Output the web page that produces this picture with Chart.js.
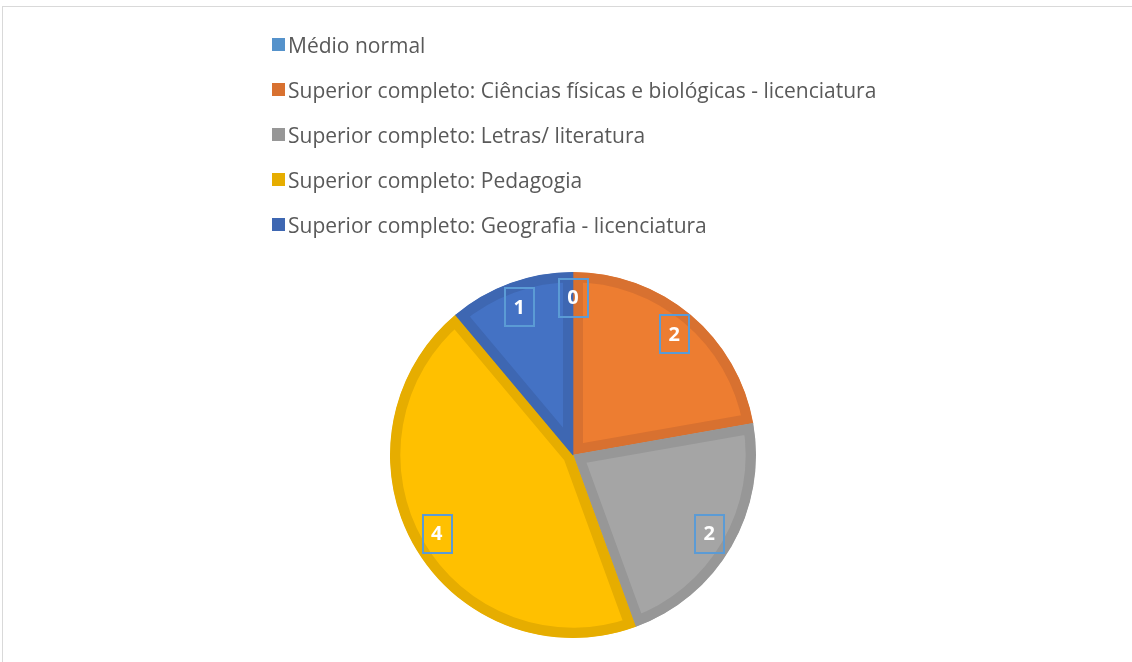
<!DOCTYPE html>
<html>
<head>
<meta charset="utf-8">
<script src="https://cdn.jsdelivr.net/npm/chart.js@4"></script>
<style>
  body { margin: 0; background: #fff; }
  #wrap { position: relative; width: 1132px; height: 662px; overflow: hidden; }
  #frame { position: absolute; left: 2px; top: 6px; right: -4px; bottom: -4px;
           border-left: 1px solid #d9d9d9; border-top: 1px solid #d9d9d9; }
  #pie { position: absolute; left: 0; top: 0; }
  #legend { position: absolute; left: 272px; top: 29px; font-family: "Open Sans", sans-serif;
            font-size: 21px; color: #595959; }
  .row { height: 45px; display: flex; align-items: center; position: relative; top: -7px; }
  .box { width: 13px; height: 13px; margin-right: 3px; }
</style>
</head>
<body>
<div id="wrap">
  <div id="frame"></div>
  <canvas id="pie" width="1132" height="662"></canvas>
  <div id="legend"></div>
</div>
<script>
var labels = [
  "Médio normal",
  "Superior completo: Ciências físicas e biológicas - licenciatura",
  "Superior completo: Letras/ literatura",
  "Superior completo: Pedagogia",
  "Superior completo: Geografia - licenciatura"
];
var values = [0, 2, 2, 4, 1];
var fillColors = ["#5B9BD5", "#ED7D31", "#A5A5A5", "#FFC000", "#4472C4"];
var edgeColors = ["#5592CB", "#D87130", "#979797", "#E6AD00", "#3E67B2"];

// boxed value labels, like excel data labels
var boxLabels = {
  id: 'boxLabels',
  afterDatasetsDraw: function(chart) {
    var ctx = chart.ctx;
    var meta = chart.getDatasetMeta(0);
    ctx.save();
    ctx.font = "bold 20px 'Open Sans', sans-serif";
    ctx.textAlign = "center";
    ctx.textBaseline = "middle";
    meta.data.forEach(function(arc, i) {
      var mid = (arc.startAngle + arc.endAngle) / 2;
      var r = arc.outerRadius * 0.86;
      var x = arc.x + Math.cos(mid) * r;
      var y = arc.y + Math.sin(mid) * r;
      ctx.strokeStyle = "#5B9BD5";
      ctx.lineWidth = 2;
      ctx.strokeRect(Math.round(x) - 14, Math.round(y) - 19, 29, 38);
      ctx.fillStyle = "#fff";
      ctx.fillText(String(chart.data.datasets[0].data[i]), x, y + 1);
    });
    ctx.restore();
  }
};

var pieChart = new Chart(document.getElementById("pie").getContext("2d"), {
  type: 'pie',
  data: {
    labels: labels,
    datasets: [{
      data: values,
      backgroundColor: fillColors,
      borderColor: edgeColors,
      borderWidth: 10,
      borderAlign: 'inner'
    }]
  },
  options: {
    responsive: false,
    animation: false,
    layout: { padding: { top: 272, bottom: 24, left: 14, right: 0 } },
    plugins: {
      legend: { display: false },
      tooltip: { enabled: false }
    }
  },
  plugins: [boxLabels]
});

var legendDiv = document.getElementById("legend");
labels.forEach(function(lab, i) {
  var row = document.createElement("div");
  row.className = "row";
  var box = document.createElement("span");
  box.className = "box";
  box.style.background = edgeColors[i];
  var txt = document.createElement("span");
  txt.textContent = lab;
  row.appendChild(box);
  row.appendChild(txt);
  legendDiv.appendChild(row);
});
</script>
</body>
</html>
